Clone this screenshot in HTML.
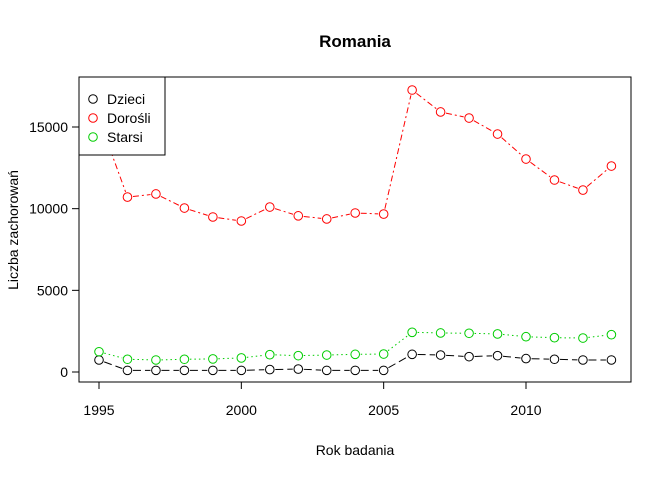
<!DOCTYPE html>
<html><head><meta charset="utf-8"><style>
body{margin:0;background:#fff}
svg{font-family:"Liberation Sans",sans-serif;display:block}
</style></head><body>
<svg id="chart" width="672" height="480"></svg>
<script>
const years=[1995,1996,1997,1998,1999,2000,2001,2002,2003,2004,2005,2006,2007,2008,2009,2010,2011,2012,2013];
const dzieci=[735,100,100,100,100,100,150,180,100,100,100,1080,1040,940,1000,820,780,735,735];
const dorosli=[15500,10710,10900,10040,9490,9245,10100,9560,9370,9735,9670,17265,15920,15550,14570,13040,11755,11140,12610];
const starsi=[1240,780,735,780,800,860,1060,1000,1040,1080,1100,2430,2390,2370,2330,2160,2100,2080,2285];
const xTicks=[1995,2000,2005,2010];
const yTicks=[0,5000,10000,15000];
const NS="http://www.w3.org/2000/svg";
const svg=document.getElementById('chart');
const X=v=>99+(v-1995)*(526-99)/15;
const Y=v=>372-v*(372-127)/15000;
function mk(t,a,p){const e=document.createElementNS(NS,t);for(const k in a)e.setAttribute(k,a[k]);(p||svg).appendChild(e);return e;}
let t=mk('text',{x:355,y:47,'text-anchor':'middle','font-size':17,'font-weight':'bold'});t.textContent='Romania';


let box=mk('rect',{x:79,y:77,width:552,height:305,fill:'none',stroke:'#000'});


mk('line',{x1:X(1995),x2:X(2010),y1:382,y2:382,stroke:'#000'});
xTicks.forEach(v=>{mk('line',{x1:X(v),x2:X(v),y1:382,y2:389,stroke:'#000'});
 const l=mk('text',{x:X(v),y:415,'text-anchor':'middle','font-size':14});l.textContent=v;
 
 });
mk('line',{x1:79,x2:79,y1:Y(0),y2:Y(15000),stroke:'#000'});
yTicks.forEach(v=>{mk('line',{x1:72,x2:79,y1:Y(v),y2:Y(v),stroke:'#000'});
 const l=mk('text',{x:68,y:Y(v)+5,'text-anchor':'end','font-size':14});l.textContent=v;
 
 });
t=mk('text',{x:355,y:455,'text-anchor':'middle','font-size':14});t.textContent='Rok badania';


t=mk('text',{x:0,y:0,'text-anchor':'middle','font-size':14,transform:'translate(18,230) rotate(-90)'});t.textContent='Liczba zachorowań';


function series(vals,color,dash,name){
 const g=mk('g',{});
 
 
 for(let i=0;i<vals.length-1;i++){
  const x1=X(years[i]),y1=Y(vals[i]),x2=X(years[i+1]),y2=Y(vals[i+1]);
  const d=Math.hypot(x2-x1,y2-y1),s=5.5/d;
  mk('line',{x1:x1+(x2-x1)*s,y1:y1+(y2-y1)*s,x2:x2-(x2-x1)*s,y2:y2-(y2-y1)*s,stroke:color,'stroke-dasharray':dash},g);
 }
 vals.forEach((v,i)=>{const c=mk('circle',{cx:X(years[i]),cy:Y(v),r:4.3,fill:'none',stroke:color},g);
  
  });
}
series(dzieci,'#000','8,4','series-dzieci');
series(dorosli,'#ff0000','6,3,2,3','series-dorosli');
series(starsi,'#00cd00','1.5,3','series-starsi');
const lg=mk('g',{});


mk('rect',{x:79,y:77,width:86,height:78,fill:'#fff',stroke:'#000'},lg);
[['Dzieci','#000'],['Dorośli','#ff0000'],['Starsi','#00cd00']].forEach((e,i)=>{
 const y=99+i*19;
 mk('circle',{cx:93,cy:y,r:4.3,fill:'none',stroke:e[1]},lg);
 const l=mk('text',{x:107,y:y+5,'font-size':14},lg);l.textContent=e[0];
 
 
});
</script>
</body></html>
